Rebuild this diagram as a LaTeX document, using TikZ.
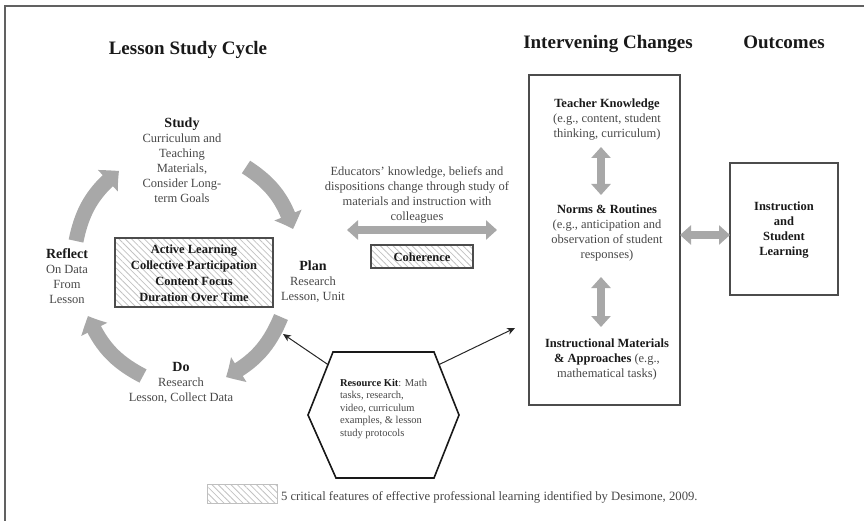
\documentclass[tikz,border=0pt]{standalone}
\usepackage{fontspec}
\setmainfont{Liberation Serif}
\usetikzlibrary{arrows.meta,bending,patterns.meta,calc}

\definecolor{arrowgray}{gray}{0.66}
\definecolor{txtgray}{gray}{0.28}
\definecolor{hatchgray}{gray}{0.76}
\definecolor{framegray}{gray}{0.38}

\tikzset{
  every node/.style={inner sep=0pt, outer sep=0pt},
  heading/.style={font=\fontsize{19}{22}\selectfont\bfseries, text=black!90, anchor=base},
  phase/.style={align=center, anchor=north, text=txtgray, font=\fontsize{12.5}{15}\selectfont},
  boldlines/.style={align=center, text=black!90, font=\fontsize{12.5}{16}\selectfont\bfseries},
  hatched/.style={draw=black!70, line width=1.2pt,
    pattern={Lines[angle=-45,distance=4.5pt,line width=0.8pt]}, pattern color=hatchgray},
  cyclearrow/.style={draw=arrowgray, line width=15pt, -{Triangle[width=28pt,length=15pt,bend]}},
  dblarrow/.style={draw=arrowgray, line width=8pt,
    {Triangle[width=19pt,length=11pt]}-{Triangle[width=19pt,length=11pt]}},
  framebox/.style={draw=black!70, line width=1.3pt},
  hexline/.style={draw=black!90, line width=1.6pt, line join=miter},
  thinarrow/.style={draw=black!85, line width=1pt, -{Stealth[length=8pt,width=7pt]}},
}

\newcommand{\phasehead}[1]{{\fontsize{14}{15}\selectfont\bfseries\color{black!90}#1}}

\begin{document}
\begin{tikzpicture}[x=1pt,y=-1pt]
\useasboundingbox (0,0) rectangle (864,521);

% outer frame (left and top edges)
\draw[framegray, line width=1.3pt] (5,521) -- (5,6) -- (864,6);

% column headings
\node[heading] (hcycle) at (188,55) {Lesson Study Cycle};
\node[heading] (hchange) at (608,49) {Intervening Changes};
\node[heading] (hout) at (784,49) {Outcomes};

% ---------------- lesson study cycle ----------------
\node[phase] (study) at (182,118)
  {\phasehead{Study}\\Curriculum and\\Teaching\\Materials,\\Consider Long-\\term Goals};
\node[phase] (reflect) at (67,249)
  {\phasehead{Reflect}\\On Data\\From\\Lesson};
\node[phase] (plan) at (313,261)
  {\phasehead{Plan}\\Research\\Lesson, Unit};
\node[phase] (do) at (181,362)
  {\phasehead{Do}\\Research\\Lesson, Collect Data};

% critical features box
\draw[hatched] (115,238) rectangle (273,307);
\node[boldlines] (features) at (194,273)
  {Active Learning\\Collective Participation\\Content Focus\\Duration Over Time};

% cycle arrows
\coordinate (a1s) at (76,241);  \coordinate (a1e) at (119,171);
\coordinate (a2s) at (246,167); \coordinate (a2e) at (293,229);
\coordinate (a3s) at (281,317); \coordinate (a3e) at (226,377);
\coordinate (a4s) at (143,376); \coordinate (a4e) at (88,316);
\draw[cyclearrow] (a1s) to[bend left=20] (a1e);
\draw[cyclearrow] (a2s) to[bend left=20] (a2e);
\draw[cyclearrow] (a3s) to[bend left=20] (a3e);
\draw[cyclearrow] (a4s) to[bend left=20] (a4e);

% ---------------- coherence link ----------------
\node[phase] (educators) at (417,167)
  {Educators’ knowledge, beliefs and\\dispositions change through study of\\materials and instruction with\\colleagues};
\coordinate (eduL) at (347,230);
\coordinate (eduR) at (497,230);
\draw[dblarrow] (eduL) -- (eduR);
\draw[hatched] (371,245) rectangle (473,268);
\node[boldlines] (coherence) at (422,257) {Coherence};

% ---------------- intervening changes ----------------
\draw[framebox] (529,75) rectangle (680,405);
\node[phase] (teacher) at (607,99)
  {\textbf{\color{black!90}Teacher Knowledge}\\(e.g., content, student\\thinking, curriculum)};
\node[phase] (norms) at (607,205)
  {\textbf{\color{black!90}Norms \& Routines}\\(e.g., anticipation and\\observation of student\\responses)};
\node[phase] (materials) at (607,339)
  {\textbf{\color{black!90}Instructional Materials}\\\textbf{\color{black!90}\& Approaches} (e.g.,\\mathematical tasks)};
\coordinate (v1t) at (601,147); \coordinate (v1b) at (601,195);
\coordinate (v2t) at (601,277); \coordinate (v2b) at (601,327);
\draw[dblarrow] (v1t) -- (v1b);
\draw[dblarrow] (v2t) -- (v2b);

% ---------------- outcomes ----------------
\draw[framebox] (730,163) rectangle (838,295);
\node[boldlines, font=\fontsize{12.5}{15}\selectfont\bfseries] (outcome) at (784,230)
  {Instruction\\and\\Student\\Learning};
\coordinate (midL) at (680,235); \coordinate (midR) at (730,235);
\draw[dblarrow] (midL) -- (midR);

% ---------------- resource kit ----------------
\coordinate (hTL) at (333,352); \coordinate (hTR) at (434,352);
\coordinate (hR) at (459,415);  \coordinate (hBR) at (434,478);
\coordinate (hBL) at (336,478); \coordinate (hL) at (308,415);
\draw[hexline] (hTL) -- (hTR) -- (hR) -- (hBR) -- (hBL) -- (hL) -- cycle;
\node[anchor=north west, align=left, text=txtgray, font=\fontsize{10.5}{12.5}\selectfont] (kit) at (340,379)
  {\textbf{\color{black!90}Resource Kit}: Math\\tasks, research,\\video, curriculum\\examples, \& lesson\\study protocols};
\coordinate (kitA) at ($(hTL)!0.2!(hL)$);
\coordinate (kitB) at ($(hTR)!0.2!(hR)$);
\coordinate (planIn) at (283,334);
\coordinate (boxIn) at (515,328);
\draw[thinarrow] (kitA) -- (planIn);
\draw[thinarrow] (kitB) -- (boxIn);

% ---------------- legend ----------------
\draw[hatched, draw=black!25, line width=0.8pt] (207,484) rectangle (277,503);
\node[anchor=base west, text=txtgray, font=\fontsize{12.7}{14}\selectfont] (legend) at (281,500)
  {5 critical features of effective professional learning identified by Desimone, 2009.};
\end{tikzpicture}
\end{document}
